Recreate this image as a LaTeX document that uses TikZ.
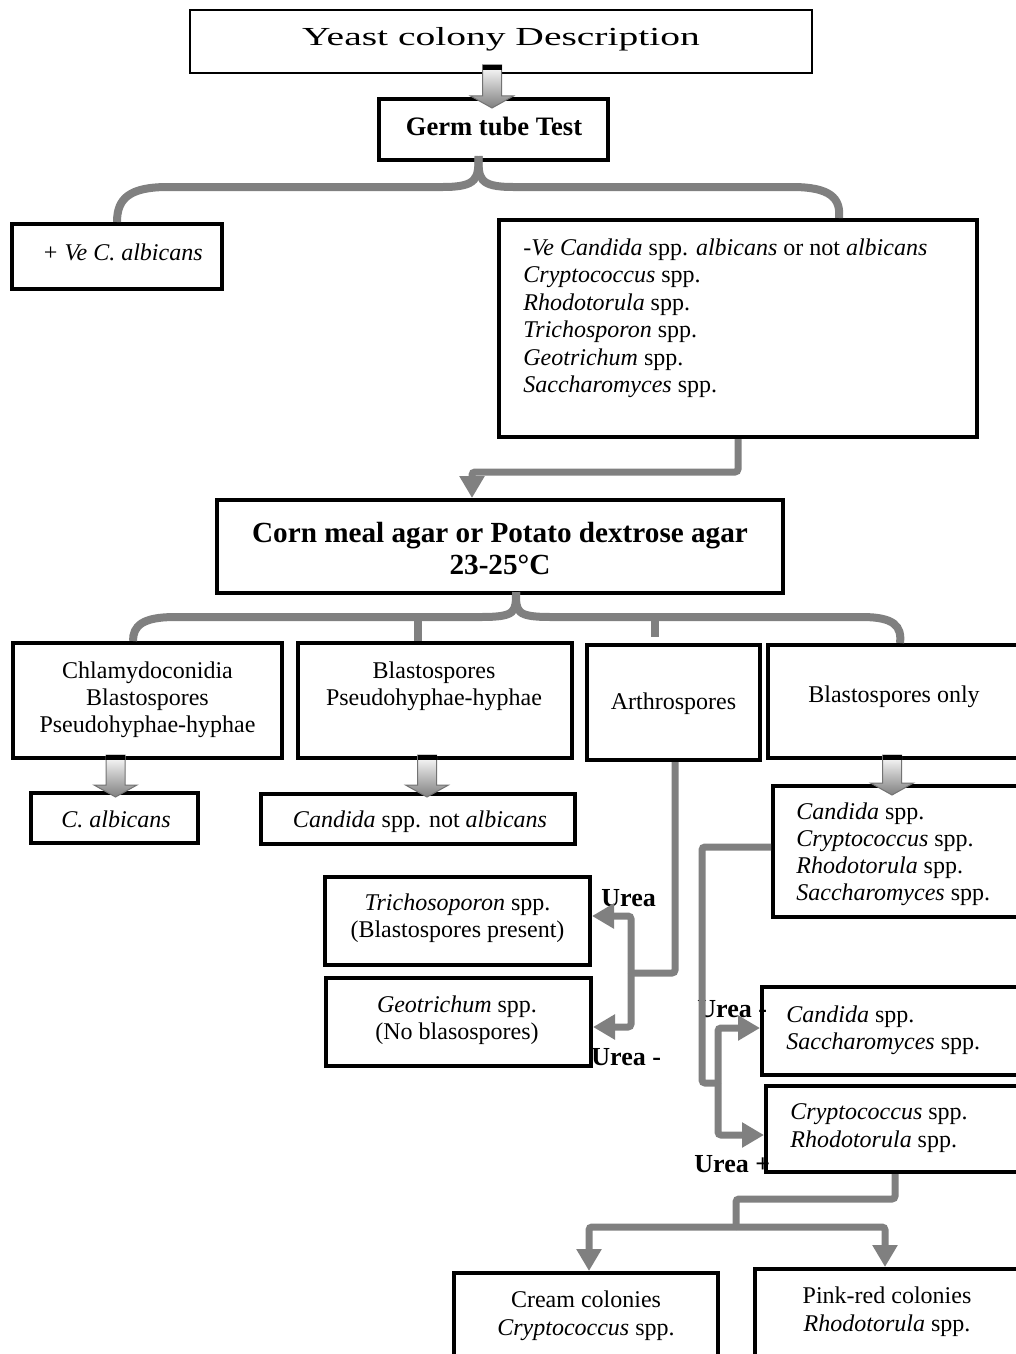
\documentclass[tikz,border=0pt]{standalone}
\usepackage{fontspec}
\setmainfont{Liberation Serif}
\usepackage{graphicx}
\usetikzlibrary{arrows.meta,calc,fit}
\definecolor{cgray}{RGB}{128,128,128}
\newcommand\linesC[1]{\vtop{\halign{\hfil##\hfil\cr#1\crcr}}}
\newcommand\linesL[1]{\vtop{\halign{##\hfil\cr#1\crcr}}}
\newcommand\blockarrow[2]{%
  \path[blk] ($(#1)+(-9.5,0)$) -- ($(#2)+(-9.5,-12)$) -- ($(#2)+(-21.5,-12)$) -- (#2)
     -- ($(#2)+(21.5,-12)$) -- ($(#2)+(9.5,-12)$) -- ($(#1)+(9.5,0)$) -- cycle;
  \fill[black] ($(#1)+(-9.5,0)$) rectangle ($(#1)+(9.5,5)$);}
\tikzset{
  box/.style={draw, line width=2pt, inner sep=0pt},
  thinbox/.style={draw, line width=1pt, inner sep=0pt},
  conn/.style={draw=cgray, line width=3.5pt, rounded corners=1.5pt},
  brace/.style={draw=cgray, line width=4pt},
  tip/.style={-{Triangle[length=11pt,width=12pt]}},
  blk/.style={top color=white, bottom color=black!50, draw=black!55, line width=0.5pt},
  lbl/.style={font=\fontsize{13}{15}\selectfont\bfseries, anchor=base west},
}
\begin{document}
\begin{tikzpicture}[x=0.5pt,y=-0.5pt, every node/.style={inner sep=0pt, font=\fontsize{12}{13.5}\selectfont}]
\useasboundingbox (0,0) rectangle (1016,1354);
\clip (0,0) rectangle (1016,1354);
\fill[white] (0,0) rectangle (1016,1354);

% ---------- boxes ----------
\node[thinbox, fit={(190,10)(812,73)}] (top) {};
\node[box, fit={(379,99)(608,160)}] (germ) {};
\node[box, fit={(12,224)(222,289)}] (pve) {};
\node[box, fit={(499,220)(977,437)}] (nve) {};
\node[box, fit={(217,500)(783,593)}] (corn) {};
\node[box, fit={(13,643)(282,758)}] (boxA) {};
\node[box, fit={(298,643)(572,758)}] (boxB) {};
\node[box, fit={(587,645)(760,760)}] (boxC) {};
\node[box, fit={(768,645)(1040,758)}] (boxD) {};
\node[box, fit={(31,793)(198,843)}] (calb) {};
\node[box, fit={(261,794)(575,844)}] (cand) {};
\node[box, fit={(773,786)(1040,917)}] (boxE) {};
\node[box, fit={(325,877)(590,965)}] (trich) {};
\node[box, fit={(326,978)(591,1066)}] (geo) {};
\node[box, fit={(762,987)(1040,1075)}] (boxF) {};
\node[box, fit={(766,1086)(1040,1172)}] (boxG) {};
\node[box, fit={(454,1273)(718,1380)}] (cream) {};
\node[box, fit={(755,1269)(1040,1380)}] (pink) {};

% ---------- texts ----------
\node[anchor=base] (topT) at (501,46) {\scalebox{1.52}[1]{\fontsize{13}{15}\selectfont Yeast colony Description}};
\node[anchor=base, font=\fontsize{13.3}{15}\selectfont\bfseries] (germT) at (494,135) {Germ tube Test};
\node[anchor=base west] (pveT) at (42,260) {\textit{+ Ve C. albicans}};
\node[anchor=base west, font=\fontsize{12}{13.75}\selectfont] (nveT) at (523,255)
  {\linesL{\textit{-Ve Candida} spp. \textit{albicans} or not \textit{albicans}\cr
   \textit{Cryptococcus} spp.\cr \textit{Rhodotorula} spp.\cr \textit{Trichosporon} spp.\cr
   \textit{Geotrichum} spp.\cr \textit{Saccharomyces} spp.}};
\node[anchor=base, font=\fontsize{14.6}{16}\selectfont\bfseries] (cornT) at (500,542)
  {\linesC{Corn meal agar or Potato dextrose agar\cr 23-25°C}};
\node[anchor=base] (boxAT) at (147.5,678) {\linesC{Chlamydoconidia\cr Blastospores\cr Pseudohyphae-hyphae}};
\node[anchor=base] (boxBT) at (434,678) {\linesC{Blastospores\cr Pseudohyphae-hyphae}};
\node[anchor=base] (boxCT) at (673.5,709) {Arthrospores};
\node[anchor=base] (boxDT) at (894,702) {Blastospores only};
\node[anchor=base] (calbT) at (116,827) {\textit{C. albicans}};
\node[anchor=base] (candT) at (420,827) {\textit{Candida} spp. not \textit{albicans}};
\node[anchor=base west] (boxET) at (796,819)
  {\linesL{\textit{Candida} spp.\cr \textit{Cryptococcus} spp.\cr \textit{Rhodotorula} spp.\cr \textit{Saccharomyces} spp.}};
\node[anchor=base, font=\fontsize{12}{13.9}\selectfont] (trichT) at (457.5,910)
  {\linesC{\textit{Trichosoporon} spp.\cr (Blastospores present)}};
\node[anchor=base, font=\fontsize{12}{13.9}\selectfont] (geoT) at (457,1012)
  {\linesC{\textit{Geotrichum} spp.\cr (No blasospores)}};
\node[anchor=base west] (boxFT) at (786,1022)
  {\linesL{\textit{Candida} spp.\cr \textit{Saccharomyces} spp.}};
\node[anchor=base west, font=\fontsize{12}{14}\selectfont] (boxGT) at (790,1119)
  {\linesL{\textit{Cryptococcus} spp.\cr \textit{Rhodotorula} spp.}};
\node[anchor=base, font=\fontsize{12}{14}\selectfont] (creamT) at (586,1307)
  {\linesC{Cream colonies\cr \textit{Cryptococcus} spp.}};
\node[anchor=base, font=\fontsize{12}{14}\selectfont] (pinkT) at (887,1303)
  {\linesC{Pink-red colonies\cr \textit{Rhodotorula} spp.}};

\node[lbl] (u1) at (601,906) {Urea};
\node[lbl] (u2) at (591,1065) {Urea -};
\node[lbl] (u3) at (697,1017) {Urea -};
\node[lbl] (u4) at (694,1172) {Urea +};

% ---------- braces ----------
\coordinate (p1) at ($(germ.south)+(-15,-6)$);
\draw[brace] (p1) .. controls +(0,22) and +(35,0) .. (443,187) -- (168,187)
   .. controls (130,187) and (117,198) .. (pve.north);
\draw[brace] (p1) .. controls +(0,22) and +(-35,0) .. (513,187) -- (792,187)
   .. controls (830,187) and (841,198) .. ($(nve.north west)+(342,0)$);

\coordinate (p2) at ($(corn.south)+(16,-3)$);
\draw[brace] (p2) .. controls +(0,20) and +(35,0) .. (481,617) -- (175,617)
   .. controls (142,617) and (133,626) .. ($(boxA.north)+(-14.5,0)$);
\draw[brace] (p2) .. controls +(0,20) and +(-35,0) .. (551,617) -- (862,617)
   .. controls (894,617) and (902,626) .. ($(boxD.north west)+(134,0)$);
\draw[brace] (418,617) -- ($(boxB.north)+(-17,0)$);
\draw[brace] (655,617) -- ($(boxC.north)+(-18.5,-6)$);

% ---------- connectors ----------
\draw[conn, tip] (nve.south) -- ++(0,33) -| ($(corn.north)+(-28,0)$);

\coordinate (j1) at (631,973);
\draw[conn] ($(boxC.south)+(1.5,0)$) |- (j1);
\draw[conn, tip] (j1) |- ($(trich.east)+(0,-5)$);
\draw[conn, tip] (j1) |- ($(geo.east)+(0,5)$);

\coordinate (j2) at (702,1083);
\coordinate (j3) at (718,1083);
\draw[conn] ($(boxE.west)+(0,-4.5)$) -| (j2) -- (j3);
\draw[conn, tip] (j3) |- ($(boxF.west)+(0,-3)$);
\draw[conn, tip] (j3) |- ($(boxG.west)+(0,6)$);

\coordinate (j4) at (736,1227);
\draw[conn] ($(boxG.south west)+(131,0)$) -- ++(0,25) -| (j4);
\draw[conn, tip] (j4) -| ($(cream.north)+(3,0)$);
\draw[conn, tip] (j4) -| ($(pink.north west)+(132,0)$);

% ---------- block arrows ----------
\coordinate (s0) at ($(top.south)+(-9,-9)$);
\coordinate (t0) at ($(germ.north)+(-1.5,11)$);
\blockarrow{s0}{t0}
\coordinate (sA) at ($(boxA.south)+(-32,-5)$);
\coordinate (tA) at ($(calb.north)+(1,6)$);
\blockarrow{sA}{tA}
\coordinate (sB) at ($(boxB.south)+(-8,-5)$);
\coordinate (tB) at ($(cand.north)+(9,5)$);
\blockarrow{sB}{tB}
\coordinate (sD) at ($(boxD.south west)+(126,-5)$);
\coordinate (tD) at ($(boxE.north west)+(121,11)$);
\blockarrow{sD}{tD}
\end{tikzpicture}
\end{document}
